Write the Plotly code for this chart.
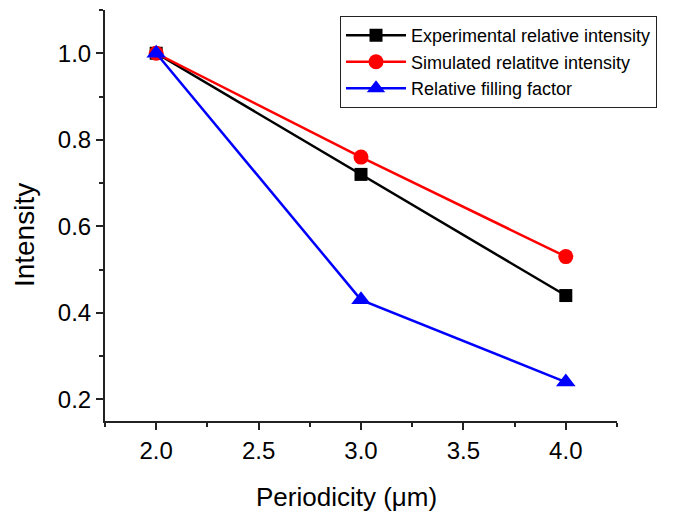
import plotly.graph_objects as go

periodicity = [2.0, 3.0, 4.0]
experimental = [1.0, 0.72, 0.44]
simulated = [1.0, 0.76, 0.53]
filling = [1.0, 0.43, 0.24]

names = ["Experimental relative intensity", "Simulated relatitve intensity", "Relative filling factor"]
x_title = "Periodicity (μm)"
y_title = "Intensity"

fig = go.Figure()
fig.add_trace(go.Scatter(x=periodicity, y=experimental, name=names[0], mode="lines+markers",
                         line=dict(color="black", width=2.5),
                         marker=dict(symbol="square", size=13, color="black")))
fig.add_trace(go.Scatter(x=periodicity, y=simulated, name=names[1], mode="lines+markers",
                         line=dict(color="#ff0000", width=2.5),
                         marker=dict(symbol="circle", size=15, color="#ff0000")))
fig.add_trace(go.Scatter(x=periodicity, y=filling, name=names[2], mode="lines+markers",
                         line=dict(color="#0000ff", width=2.5),
                         marker=dict(symbol="triangle-up", size=17, color="#0000ff")))

font_family = "Liberation Sans, Arial, sans-serif"
tick_font = dict(family=font_family, size=24, color="black")
fig.update_layout(
    width=696, height=516,
    margin=dict(l=97, r=87, t=2, b=103, autoexpand=False),
    paper_bgcolor="white", plot_bgcolor="white",
    font=dict(family=font_family, color="black", size=24),
    showlegend=True,
    legend=dict(x=0.459, y=0.985, xanchor="left", yanchor="top",
                bordercolor="#222", borderwidth=1, bgcolor="white",
                font=dict(size=18, family=font_family), tracegroupgap=0,
                itemwidth=60),
    xaxis=dict(range=[1.75, 4.25], tick0=2.0, dtick=0.5, tickformat=".1f", tickfont=tick_font,
               showgrid=False, zeroline=False, showline=True, linecolor="#222", linewidth=2,
               ticks="outside", ticklen=7, tickwidth=2, tickcolor="#222",
               minor=dict(dtick=0.25, tick0=1.75, ticks="outside", ticklen=4, tickwidth=2, tickcolor="#222")),
    yaxis=dict(range=[0.15, 1.1], tick0=0.2, dtick=0.2, tickformat=".1f", tickfont=tick_font,
               showgrid=False, zeroline=False, showline=True, linecolor="#222", linewidth=2,
               ticks="outside", ticklen=7, tickwidth=2, tickcolor="#222",
               minor=dict(dtick=0.1, tick0=0.1, ticks="outside", ticklen=4, tickwidth=2, tickcolor="#222")),
    annotations=[
        dict(text=x_title, xref="paper", yref="paper", x=0.4717, y=-0.185,
             xanchor="center", yanchor="middle", showarrow=False, font=dict(size=26)),
        dict(text=y_title, xref="paper", yref="paper", x=-0.156, y=0.4526, textangle=-90,
             xanchor="center", yanchor="middle", showarrow=False, font=dict(size=28)),
    ],
)

fig.write_html("out.html")
